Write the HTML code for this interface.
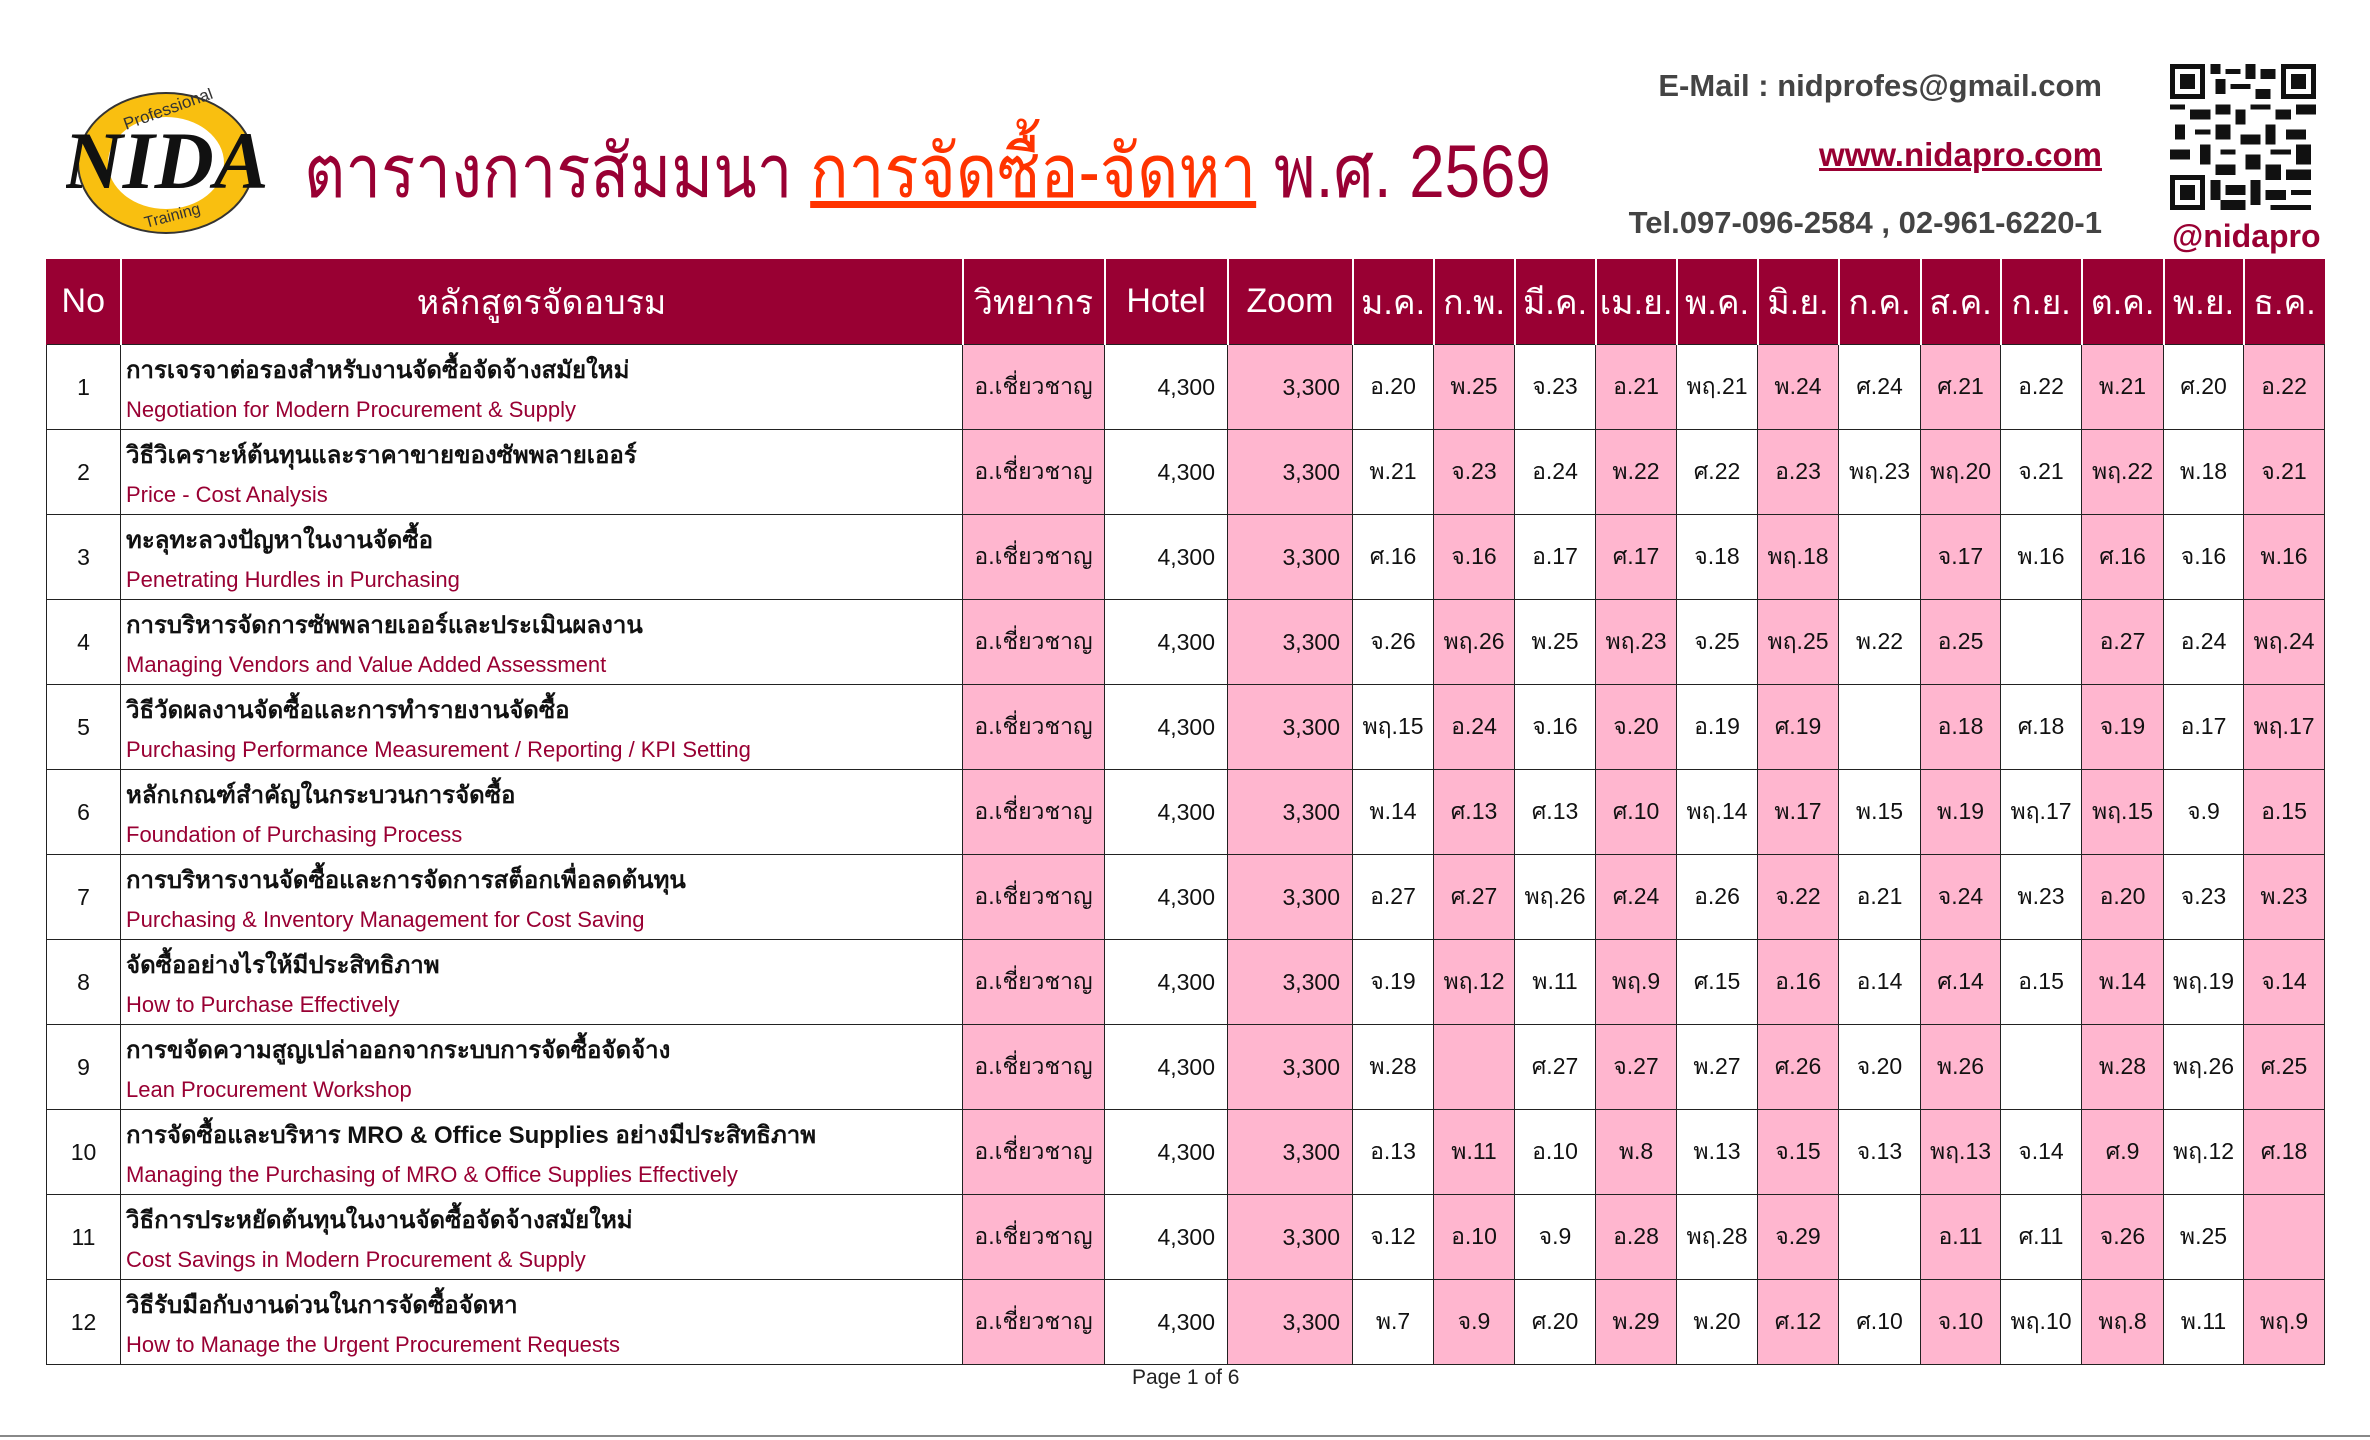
<!DOCTYPE html>
<html><head><meta charset="utf-8"><style>
body{margin:0;width:2370px;height:1440px;background:#fff;position:relative;overflow:hidden;font-family:"Liberation Sans","DejaVu Sans","Noto Sans CJK SC",sans-serif}
.abs{position:absolute}
table{position:absolute;left:46px;top:259px;border-collapse:collapse;table-layout:fixed;width:2278px}
th{background:#990033;color:#fff;font-weight:normal;font-size:34px;height:85px;border-left:2px solid #fff;padding:0;white-space:nowrap}
th:first-child{border-left:1px solid #990033}
td{border:1.5px solid #222;height:84px;font-size:23px;text-align:center;padding:0;white-space:nowrap;color:#111}
td.p{background:#ffb6cf}
td.c{text-align:left;padding-left:5px;vertical-align:top}
td.c b{display:block;font-size:24px;margin-top:5px;height:47px}
td.c span{display:block;color:#990033;font-size:22px}
td.r{text-align:right;padding-right:12px}
</style></head><body>
<svg class="abs" style="left:66px;top:88px" width="200" height="150" viewBox="0 0 200 150">
<ellipse cx="100" cy="75" rx="88" ry="70" fill="#f9bf10" stroke="#333" stroke-width="2"/>
<ellipse cx="100" cy="75" rx="58" ry="46" fill="#fff"/>
<text x="100" y="100" text-anchor="middle" font-family="Liberation Serif" font-style="italic" font-weight="bold" font-size="82" fill="#111">NIDA</text>
<text x="60" y="42" font-family="Liberation Sans" font-size="17" fill="#333" transform="rotate(-20 60 42)">Professional</text>
<text x="80" y="140" font-family="Liberation Sans" font-size="16" fill="#333" transform="rotate(-15 80 140)">Training</text>
</svg>
<div class="abs" style="left:304px;top:112px;font-size:74px;color:#990033;white-space:nowrap;transform:scaleX(0.86);transform-origin:0 0">ตารางการสัมมนา <span style="color:#ff3300;text-decoration:underline">การจัดซื้อ-จัดหา</span> พ.ศ. 2569</div>
<div class="abs" style="right:268px;top:68px;font-size:31px;font-weight:bold;color:#444">E-Mail : nidprofes@gmail.com</div>
<div class="abs" style="right:268px;top:136px;font-size:33px;font-weight:bold;color:#990033;text-decoration:underline">www.nidapro.com</div>
<div class="abs" style="right:268px;top:205px;font-size:31px;font-weight:bold;color:#444">Tel.097-096-2584 , 02-961-6220-1</div>
<svg class="abs" style="left:2170px;top:64px" width="146" height="146" viewBox="0 0 29 29" shape-rendering="crispEdges">
<rect width="29" height="29" fill="#fff"/>
<g fill="#111">
<path d="M0 0h7v7h-7zM22 0h7v7h-7zM0 22h7v7h-7z"/>
</g><g fill="#fff"><path d="M1 1h5v5h-5zM23 1h5v5h-5zM1 23h5v5h-5z"/></g>
<g fill="#111"><path d="M2 2h3v3h-3zM24 2h3v3h-3zM2 24h3v3h-3z"/>
<path d="M8 0h2v2h-2zM11 1h3v1h-3zM15 0h2v3h-2zM18 1h3v2h-3zM9 3h2v3h-2zM12 4h4v1h-4zM17 5h3v2h-3zM0 8h3v1h-3zM4 9h4v2h-4zM9 8h3v2h-3zM13 9h2v3h-2zM16 8h4v1h-4zM21 9h3v2h-3zM25 8h4v2h-4zM1 12h2v3h-2zM5 13h3v1h-3zM9 12h3v3h-3zM14 14h4v2h-4zM19 12h2v4h-2zM23 13h4v2h-4zM0 17h4v2h-4zM6 16h2v4h-2zM10 17h3v1h-3zM15 18h3v3h-3zM20 17h4v1h-4zM25 16h3v4h-3zM9 20h4v2h-4zM19 20h3v3h-3zM23 21h5v2h-5zM8 23h2v4h-2zM11 24h4v2h-4zM16 23h2v5h-2zM19 25h4v2h-4zM24 25h4v1h-4zM10 27h5v2h-5zM20 28h8v1h-8z"/></g>
</svg>
<div class="abs" style="left:2172px;top:218px;font-size:32px;font-weight:bold;color:#990033">@nidapro</div>
<table>
<colgroup><col style="width:74px"><col style="width:842px"><col style="width:142px"><col style="width:123px"><col style="width:125px"><col style="width:81px"><col style="width:81px"><col style="width:81px"><col style="width:81px"><col style="width:81px"><col style="width:81px"><col style="width:82px"><col style="width:80px"><col style="width:81px"><col style="width:82px"><col style="width:80px"><col style="width:81px"></colgroup>
<tr><th>No</th><th>หลักสูตรจัดอบรม</th><th>วิทยากร</th><th>Hotel</th><th>Zoom</th><th>ม.ค.</th><th>ก.พ.</th><th>มี.ค.</th><th>เม.ย.</th><th>พ.ค.</th><th>มิ.ย.</th><th>ก.ค.</th><th>ส.ค.</th><th>ก.ย.</th><th>ต.ค.</th><th>พ.ย.</th><th>ธ.ค.</th></tr>
<tr><td>1</td><td class="c"><b>การเจรจาต่อรองสำหรับงานจัดซื้อจัดจ้างสมัยใหม่</b><span>Negotiation for Modern Procurement &amp; Supply</span></td><td class="p">อ.เชี่ยวชาญ</td><td class="r">4,300</td><td class="p r">3,300</td><td>อ.20</td><td class="p">พ.25</td><td>จ.23</td><td class="p">อ.21</td><td>พฤ.21</td><td class="p">พ.24</td><td>ศ.24</td><td class="p">ศ.21</td><td>อ.22</td><td class="p">พ.21</td><td>ศ.20</td><td class="p">อ.22</td></tr>
<tr><td>2</td><td class="c"><b>วิธีวิเคราะห์ต้นทุนและราคาขายของซัพพลายเออร์</b><span>Price - Cost Analysis</span></td><td class="p">อ.เชี่ยวชาญ</td><td class="r">4,300</td><td class="p r">3,300</td><td>พ.21</td><td class="p">จ.23</td><td>อ.24</td><td class="p">พ.22</td><td>ศ.22</td><td class="p">อ.23</td><td>พฤ.23</td><td class="p">พฤ.20</td><td>จ.21</td><td class="p">พฤ.22</td><td>พ.18</td><td class="p">จ.21</td></tr>
<tr><td>3</td><td class="c"><b>ทะลุทะลวงปัญหาในงานจัดซื้อ</b><span>Penetrating Hurdles in Purchasing</span></td><td class="p">อ.เชี่ยวชาญ</td><td class="r">4,300</td><td class="p r">3,300</td><td>ศ.16</td><td class="p">จ.16</td><td>อ.17</td><td class="p">ศ.17</td><td>จ.18</td><td class="p">พฤ.18</td><td></td><td class="p">จ.17</td><td>พ.16</td><td class="p">ศ.16</td><td>จ.16</td><td class="p">พ.16</td></tr>
<tr><td>4</td><td class="c"><b>การบริหารจัดการซัพพลายเออร์และประเมินผลงาน</b><span>Managing Vendors and Value Added Assessment</span></td><td class="p">อ.เชี่ยวชาญ</td><td class="r">4,300</td><td class="p r">3,300</td><td>จ.26</td><td class="p">พฤ.26</td><td>พ.25</td><td class="p">พฤ.23</td><td>จ.25</td><td class="p">พฤ.25</td><td>พ.22</td><td class="p">อ.25</td><td></td><td class="p">อ.27</td><td>อ.24</td><td class="p">พฤ.24</td></tr>
<tr><td>5</td><td class="c"><b>วิธีวัดผลงานจัดซื้อและการทำรายงานจัดซื้อ</b><span>Purchasing Performance Measurement / Reporting / KPI Setting</span></td><td class="p">อ.เชี่ยวชาญ</td><td class="r">4,300</td><td class="p r">3,300</td><td>พฤ.15</td><td class="p">อ.24</td><td>จ.16</td><td class="p">จ.20</td><td>อ.19</td><td class="p">ศ.19</td><td></td><td class="p">อ.18</td><td>ศ.18</td><td class="p">จ.19</td><td>อ.17</td><td class="p">พฤ.17</td></tr>
<tr><td>6</td><td class="c"><b>หลักเกณฑ์สำคัญในกระบวนการจัดซื้อ</b><span>Foundation of Purchasing Process</span></td><td class="p">อ.เชี่ยวชาญ</td><td class="r">4,300</td><td class="p r">3,300</td><td>พ.14</td><td class="p">ศ.13</td><td>ศ.13</td><td class="p">ศ.10</td><td>พฤ.14</td><td class="p">พ.17</td><td>พ.15</td><td class="p">พ.19</td><td>พฤ.17</td><td class="p">พฤ.15</td><td>จ.9</td><td class="p">อ.15</td></tr>
<tr><td>7</td><td class="c"><b>การบริหารงานจัดซื้อและการจัดการสต็อกเพื่อลดต้นทุน</b><span>Purchasing &amp; Inventory Management for Cost Saving</span></td><td class="p">อ.เชี่ยวชาญ</td><td class="r">4,300</td><td class="p r">3,300</td><td>อ.27</td><td class="p">ศ.27</td><td>พฤ.26</td><td class="p">ศ.24</td><td>อ.26</td><td class="p">จ.22</td><td>อ.21</td><td class="p">จ.24</td><td>พ.23</td><td class="p">อ.20</td><td>จ.23</td><td class="p">พ.23</td></tr>
<tr><td>8</td><td class="c"><b>จัดซื้ออย่างไรให้มีประสิทธิภาพ</b><span>How to Purchase Effectively</span></td><td class="p">อ.เชี่ยวชาญ</td><td class="r">4,300</td><td class="p r">3,300</td><td>จ.19</td><td class="p">พฤ.12</td><td>พ.11</td><td class="p">พฤ.9</td><td>ศ.15</td><td class="p">อ.16</td><td>อ.14</td><td class="p">ศ.14</td><td>อ.15</td><td class="p">พ.14</td><td>พฤ.19</td><td class="p">จ.14</td></tr>
<tr><td>9</td><td class="c"><b>การขจัดความสูญเปล่าออกจากระบบการจัดซื้อจัดจ้าง</b><span>Lean Procurement Workshop</span></td><td class="p">อ.เชี่ยวชาญ</td><td class="r">4,300</td><td class="p r">3,300</td><td>พ.28</td><td class="p"></td><td>ศ.27</td><td class="p">จ.27</td><td>พ.27</td><td class="p">ศ.26</td><td>จ.20</td><td class="p">พ.26</td><td></td><td class="p">พ.28</td><td>พฤ.26</td><td class="p">ศ.25</td></tr>
<tr><td>10</td><td class="c"><b>การจัดซื้อและบริหาร MRO &amp; Office Supplies อย่างมีประสิทธิภาพ</b><span>Managing the Purchasing of MRO &amp; Office Supplies Effectively</span></td><td class="p">อ.เชี่ยวชาญ</td><td class="r">4,300</td><td class="p r">3,300</td><td>อ.13</td><td class="p">พ.11</td><td>อ.10</td><td class="p">พ.8</td><td>พ.13</td><td class="p">จ.15</td><td>จ.13</td><td class="p">พฤ.13</td><td>จ.14</td><td class="p">ศ.9</td><td>พฤ.12</td><td class="p">ศ.18</td></tr>
<tr><td>11</td><td class="c"><b>วิธีการประหยัดต้นทุนในงานจัดซื้อจัดจ้างสมัยใหม่</b><span>Cost Savings in Modern Procurement &amp; Supply</span></td><td class="p">อ.เชี่ยวชาญ</td><td class="r">4,300</td><td class="p r">3,300</td><td>จ.12</td><td class="p">อ.10</td><td>จ.9</td><td class="p">อ.28</td><td>พฤ.28</td><td class="p">จ.29</td><td></td><td class="p">อ.11</td><td>ศ.11</td><td class="p">จ.26</td><td>พ.25</td><td class="p"></td></tr>
<tr><td>12</td><td class="c"><b>วิธีรับมือกับงานด่วนในการจัดซื้อจัดหา</b><span>How to Manage the Urgent Procurement Requests</span></td><td class="p">อ.เชี่ยวชาญ</td><td class="r">4,300</td><td class="p r">3,300</td><td>พ.7</td><td class="p">จ.9</td><td>ศ.20</td><td class="p">พ.29</td><td>พ.20</td><td class="p">ศ.12</td><td>ศ.10</td><td class="p">จ.10</td><td>พฤ.10</td><td class="p">พฤ.8</td><td>พ.11</td><td class="p">พฤ.9</td></tr>
</table>
<div class="abs" style="left:1132px;top:1366px;font-size:21px;color:#222">Page 1 of 6</div>
<div class="abs" style="left:0;top:1435px;width:2370px;height:2px;background:#888"></div>
</body></html>
